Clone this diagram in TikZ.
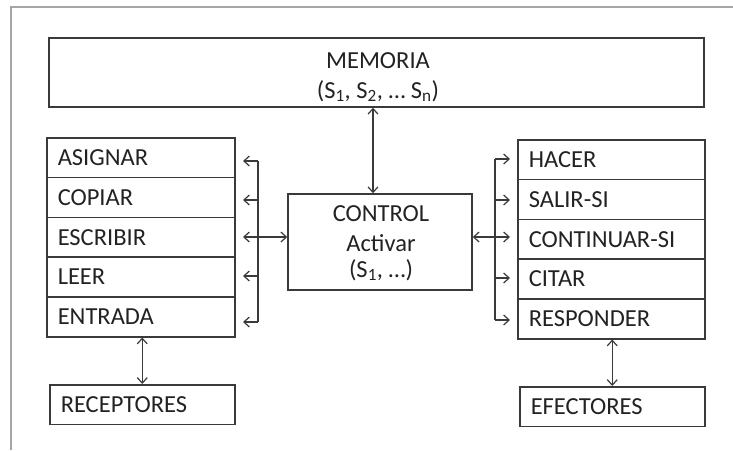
\documentclass[tikz,border=0pt]{standalone}
\usepackage{fontspec}
\setmainfont{Carlito}
\usetikzlibrary{arrows.meta}
\definecolor{boxc}{HTML}{3A3A3A}
\definecolor{txtc}{HTML}{222222}
\definecolor{framec}{HTML}{A6A6A6}
\newcommand{\dfont}{\fontsize{24.5}{28}\selectfont}
\tikzset{
  box/.style={draw=boxc, line width=1.5pt, inner sep=0pt},
  rowbox/.style={box, minimum width=188pt, minimum height=39.8pt, text width=166pt,
    align=left, inner xsep=11pt, anchor=north west, font=\dfont, text=txtc},
  lbl/.style={font=\dfont, text=txtc, anchor=base, inner sep=0pt},
  conn/.style={draw=boxc, line width=1.2pt, >={Straight Barb[length=5.5pt,width=10pt]}},
  framel/.style={draw=framec, line width=1.8pt}
}
\begin{document}
\begin{tikzpicture}[x=1pt,y=-1pt]
\useasboundingbox (0,0) rectangle (733,450);
% frame
\coordinate (fa) at (733,7);
\coordinate (fb) at (11,7);
\coordinate (fc) at (11,450);
\draw[framel] (fa) -- (fb) -- (fc);
% memoria
\node[box, minimum width=655pt, minimum height=69pt] (memoria) at (376.5,72.5) {};
\node[lbl] (memt1) at (378,68) {MEMORIA};
\node[lbl] (memt2) at (378,98) {(S\textsubscript{1}, S\textsubscript{2}, … S\textsubscript{n})};
% control
\node[box, minimum width=184pt, minimum height=96pt] (control) at (380,242) {};
\node[lbl] (ct1) at (381,221) {CONTROL};
\node[lbl] (ct2) at (381,251) {Activar};
\node[lbl] (ct3) at (381,277) {(S\textsubscript{1}, …)};
% left stack
\node[rowbox] (asignar) at (46,137) {ASIGNAR};
\node[rowbox] (copiar) at (46,176.8) {COPIAR};
\node[rowbox] (escribir) at (46,216.6) {ESCRIBIR};
\node[rowbox] (leer) at (46,256.4) {LEER};
\node[rowbox] (entrada) at (46,296.2) {ENTRADA};
% right stack
\node[rowbox, minimum width=187pt, text width=165pt] (hacer) at (517,139) {HACER};
\node[rowbox, minimum width=187pt, text width=165pt] (salir) at (517,178.8) {SALIR-SI};
\node[rowbox, minimum width=187pt, text width=165pt] (continuar) at (517,218.6) {CONTINUAR-SI};
\node[rowbox, minimum width=187pt, text width=165pt] (citar) at (517,258.4) {CITAR};
\node[rowbox, minimum width=187pt, text width=165pt] (responder) at (517,298.2) {RESPONDER};
% bottom boxes
\node[rowbox, minimum width=185pt, text width=163pt] (receptores) at (49,384) {RECEPTORES};
\node[rowbox, minimum width=185pt, text width=163pt] (efectores) at (519,386) {EFECTORES};
% memoria <-> control
\draw[conn, <->] ([xshift=-7pt]control.north) -- ([xshift=-7pt]control.north |- memoria.south);
% left bracket
\coordinate (lbt) at (258,161);
\coordinate (lbb) at (258,322);
\coordinate (la1) at (243,161);
\coordinate (la2) at (243,200);
\coordinate (la3) at (243,237);
\coordinate (la4) at (243,276);
\coordinate (la5) at (243,322);
\draw[conn] (lbt) -- (lbb);
\draw[conn, ->] (lbt) -- (la1);
\draw[conn, ->] (la2 -| lbt) -- (la2);
\draw[conn, ->] (la4 -| lbt) -- (la4);
\draw[conn, ->] (lbb) -- (la5);
\draw[conn, <->] (la3) -- (control.west |- la3);
% right bracket
\coordinate (rbt) at (495,159);
\coordinate (rbb) at (495,320);
\coordinate (ra1) at (510,159);
\coordinate (ra2) at (510,200);
\coordinate (ra3) at (510,237);
\coordinate (ra4) at (510,278);
\coordinate (ra5) at (510,320);
\draw[conn] (rbt) -- (rbb);
\draw[conn, ->] (rbt) -- (ra1);
\draw[conn, ->] (ra2 -| rbt) -- (ra2);
\draw[conn, ->] (ra4 -| rbt) -- (ra4);
\draw[conn, ->] (rbb) -- (ra5);
\draw[conn, <->] (control.east |- ra3) -- (ra3);
% bottom arrows
\draw[conn, <->] (receptores.north) -- (receptores.north |- entrada.south);
\draw[conn, <->] (efectores.north) -- (efectores.north |- responder.south);
\end{tikzpicture}
\end{document}
